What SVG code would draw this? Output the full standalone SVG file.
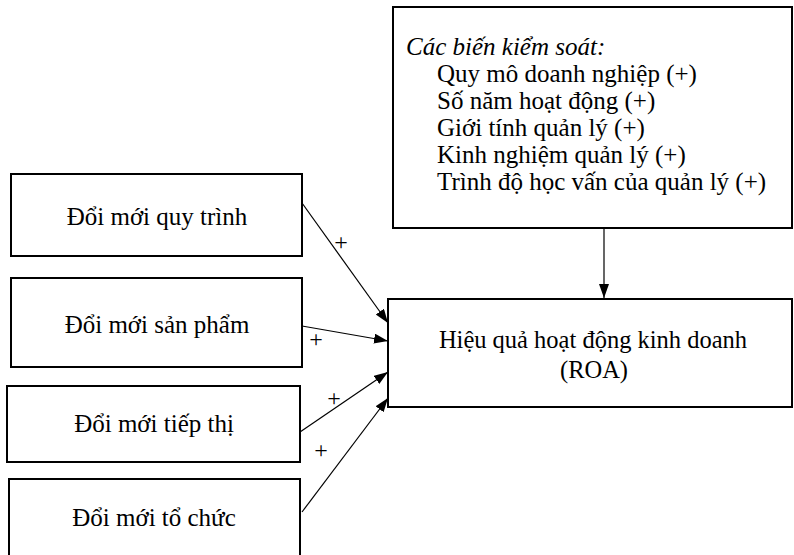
<svg xmlns="http://www.w3.org/2000/svg" width="794" height="555" viewBox="0 0 794 555">
<style>
.box{fill:#fff;stroke:#000;stroke-width:2}
.t{font-size:25px;fill:#000}
.r{font-size:24.5px}
.c{text-anchor:middle}
.ln{stroke:#000;stroke-width:1.2;fill:none}
.p{font-size:24px;fill:#000;text-anchor:middle}
</style>
<defs>
<marker id="ah" markerUnits="userSpaceOnUse" markerWidth="15" markerHeight="11" refX="14" refY="5" orient="auto">
<path d="M0,0 L14,5 L0,10 z" fill="#000"/>
</marker>
</defs>
<rect width="794" height="555" fill="#fff"/>
<g font-family="'Liberation Serif', 'Times New Roman', 'DejaVu Serif', serif">
<g id="controls">
<rect class="box" x="393" y="7" width="399" height="221"/>
<text class="t" x="406" y="55" font-style="italic">Các biến kiểm soát:</text>
<text class="t" x="437" y="82">Quy mô doanh nghiệp (+)</text>
<text class="t" x="437" y="109">Số năm hoạt động (+)</text>
<text class="t" x="437" y="136">Giới tính quản lý (+)</text>
<text class="t" x="437" y="163">Kinh nghiệm quản lý (+)</text>
<text class="t" x="437" y="190">Trình độ học vấn của quản lý (+)</text>
</g>
<g id="roa">
<rect class="box" x="388" y="299" width="404" height="108"/>
<text class="t r c" x="593" y="348">Hiệu quả hoạt động kinh doanh</text>
<text class="t r c" x="594" y="378">(ROA)</text>
</g>
<g id="n1">
<rect class="box" x="11" y="174" width="291" height="82"/>
<text class="t c" x="157" y="225">Đổi mới quy trình</text>
</g>
<g id="n2">
<rect class="box" x="11" y="278" width="291" height="89"/>
<text class="t c" x="157" y="333">Đổi mới sản phẩm</text>
</g>
<g id="n3">
<rect class="box" x="7" y="386" width="293" height="76"/>
<text class="t c" x="154" y="432">Đổi mới tiếp thị</text>
</g>
<g id="n4">
<rect class="box" x="9" y="479" width="291" height="90"/>
<text class="t c" x="154" y="526">Đổi mới tổ chức</text>
</g>
<g id="connectors">
<line class="ln" x1="604" y1="228" x2="604" y2="298" marker-end="url(#ah)"/>
<line class="ln" x1="302" y1="203" x2="388" y2="323" marker-end="url(#ah)"/>
<line class="ln" x1="302" y1="326" x2="388" y2="341" marker-end="url(#ah)"/>
<line class="ln" x1="300" y1="432" x2="388" y2="372" marker-end="url(#ah)"/>
<line class="ln" x1="302" y1="512" x2="388" y2="398" marker-end="url(#ah)"/>
<text class="p" x="341" y="250">+</text>
<text class="p" x="316" y="347">+</text>
<text class="p" x="334" y="406">+</text>
<text class="p" x="321" y="458">+</text>
</g>
</g>
</svg>
